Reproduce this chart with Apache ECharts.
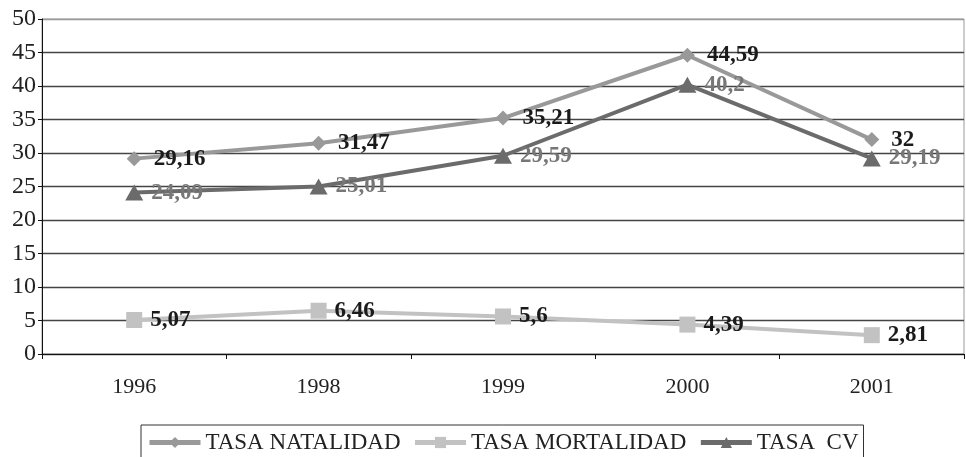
<!DOCTYPE html>
<html>
<head>
<meta charset="utf-8">
<script src="https://cdn.jsdelivr.net/npm/echarts@6/dist/echarts.min.js"></script>
<style>html,body{margin:0;padding:0;background:#fff;}#c{width:966px;height:457px;}</style>
</head>
<body>
<div id="c"></div>
<script>
const categories = ['1996', '1998', '1999', '2000', '2001'];
const natalidad = [29.16, 31.47, 35.21, 44.59, 32];
const mortalidad = [5.07, 6.46, 5.6, 4.39, 2.81];
const cv = [24.09, 25.01, 29.59, 40.2, 29.19];
const seriesNames = ['TASA NATALIDAD', 'TASA MORTALIDAD', 'TASA  CV'];

const FONT = 'Liberation Serif';
const fmt = p => String(p.value).replace('.', ',');
const splitColors = ['#444','#444','#444','#444','#444','#444','#444','#444','#444','#444','#999'];

const chart = echarts.init(document.getElementById('c'), null, {renderer: 'canvas'});
chart.setOption({
  animation: false,
  backgroundColor: '#fff',
  grid: {left: 42, right: 2, top: 19, bottom: 103, show: true, borderColor: '#999', borderWidth: 1},
  legend: {
    top: 425, left: 141,
    data: seriesNames,
    borderColor: '#333', borderWidth: 1,
    padding: [6, 5, 6, 6],
    itemWidth: 51, itemHeight: 14, itemGap: 12,
    lineStyle: {width: 5},
    textStyle: {fontFamily: FONT, fontSize: 23, color: '#222'}
  },
  xAxis: {
    type: 'category',
    data: categories,
    boundaryGap: true,
    axisLine: {lineStyle: {color: '#111', width: 1}},
    axisTick: {show: true, length: 5, lineStyle: {color: '#111'}},
    axisLabel: {fontFamily: FONT, fontSize: 22, color: '#222', margin: 22}
  },
  yAxis: {
    type: 'value', min: 0, max: 50, interval: 5,
    axisLine: {show: true, lineStyle: {color: '#111', width: 1}},
    axisTick: {show: true, length: 4, lineStyle: {color: '#111'}},
    axisLabel: {fontFamily: FONT, fontSize: 24, color: '#222', margin: 6},
    splitLine: {show: true, lineStyle: {color: splitColors, width: 1.4}}
  },
  series: [
    {
      name: seriesNames[0], type: 'line', data: natalidad,
      symbol: 'diamond', symbolSize: [15, 15],
      lineStyle: {color: '#999', width: 4},
      itemStyle: {color: '#999'},
      label: {show: true, position: 'right', distance: 12, formatter: fmt,
        fontFamily: FONT, fontSize: 23, fontWeight: 'bold', color: '#1a1a1a'}
    },
    {
      name: seriesNames[1], type: 'line', data: mortalidad,
      symbol: 'rect', symbolSize: [16, 16],
      lineStyle: {color: '#c2c2c2', width: 4},
      itemStyle: {color: '#c2c2c2'},
      label: {show: true, position: 'right', distance: 8, formatter: fmt,
        fontFamily: FONT, fontSize: 23, fontWeight: 'bold', color: '#1a1a1a'}
    },
    {
      name: seriesNames[2], type: 'line', data: cv,
      symbol: 'triangle', symbolSize: [18, 16],
      lineStyle: {color: '#6b6b6b', width: 4},
      itemStyle: {color: '#6b6b6b'},
      label: {show: true, position: 'right', distance: 8, formatter: fmt,
        fontFamily: FONT, fontSize: 23, fontWeight: 'bold', color: '#777'}
    }
  ]
});
</script>
</body>
</html>
